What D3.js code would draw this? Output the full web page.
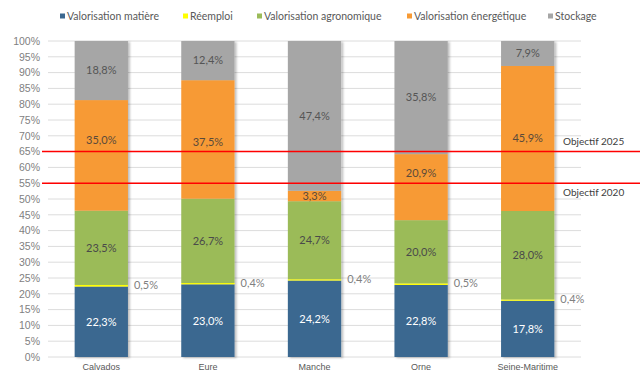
<!DOCTYPE html>
<html>
<head>
<meta charset="utf-8">
<script src="https://cdn.jsdelivr.net/npm/d3@7"></script>
<style>
  html, body { margin: 0; padding: 0; background: #fff; }
  svg { display: block; font-family: "Lato", "Noto Sans", sans-serif; }
</style>
</head>
<body>
<svg id="chart" width="640" height="376"></svg>
<script>
// Départements
const categories = ["Calvados", "Eure", "Manche", "Orne", "Seine-Maritime"];

// Series (% of waste by treatment route)
const seriesNames = ["Valorisation matière", "Réemploi", "Valorisation agronomique", "Valorisation énergétique", "Stockage"];
const valorisationMatiere = [22.3, 23.0, 24.2, 22.8, 17.8];
const reemploi = [0.5, 0.4, 0.4, 0.5, 0.4];
const valorisationAgronomique = [23.5, 26.7, 24.7, 20.0, 28.0];
const valorisationEnergetique = [35.0, 37.5, 3.3, 20.9, 45.9];
const stockage = [18.8, 12.4, 47.4, 35.8, 7.9];

const yTicks = [0, 5, 10, 15, 20, 25, 30, 35, 40, 45, 50, 55, 60, 65, 70, 75, 80, 85, 90, 95, 100];

// Target lines
const objectifs = [
  { label: "Objectif 2025", value: 65 },
  { label: "Objectif 2020", value: 55 }
];

const seriesValues = [valorisationMatiere, reemploi, valorisationAgronomique, valorisationEnergetique, stockage];
const colors = ["#3b6890", "#ffff00", "#9bbb59", "#f79a34", "#a6a6a6"];
const labelColors = ["#ffffff", "#808080", "#4a4a4a", "#5a4a3a", "#555555"];

const rows = categories.map((c, i) => {
  const r = { cat: c };
  seriesNames.forEach((s, k) => r[s] = seriesValues[k][i]);
  return r;
});

const svg = d3.select("#chart");
const W = 640;
const left = 48, right = 581;

const x = d3.scaleBand().domain(categories).range([left, right]).paddingInner(0.5).paddingOuter(0.25);
const y = d3.scaleLinear().domain([0, 100]).range([357, 41]);

// Gridlines
svg.append("g").selectAll("line").data(yTicks).join("line")
  .attr("x1", left).attr("x2", right)
  .attr("y1", d => y(d)).attr("y2", d => y(d))
  .attr("stroke", "#dcdcdc").attr("stroke-width", 1);

// Y axis labels
const yAxis = d3.axisLeft(y).tickValues(yTicks).tickFormat(d => d + "%").tickSize(0).tickPadding(8);
const gy = svg.append("g").attr("transform", `translate(${left},0)`).call(yAxis);
gy.select(".domain").remove();
gy.selectAll("text").attr("fill", "#7f7f7f").style("font-size", "10.5px");

// Soft shadow on the bars
const defs = svg.append("defs");
const f = defs.append("filter").attr("id", "shadow").attr("x", "-20%").attr("y", "-5%").attr("width", "140%").attr("height", "110%");
f.append("feDropShadow").attr("dx", 2).attr("dy", 1).attr("stdDeviation", 1.2).attr("flood-color", "#000").attr("flood-opacity", 0.25);

const stack = d3.stack().keys(seriesNames)(rows);

const barG = svg.append("g").attr("filter", "url(#shadow)");
stack.forEach((layer, k) => {
  barG.append("g").selectAll("rect").data(layer).join("rect")
    .attr("x", d => x(d.data.cat))
    .attr("width", x.bandwidth())
    .attr("y", d => y(Math.min(d[1], 100)))
    .attr("height", d => y(d[0]) - y(Math.min(d[1], 100)))
    .attr("fill", colors[k]);
});

// Labels lifted clear of the target lines (pixels, per series/category)
const labelShift = { "Valorisation énergétique": { "Calvados": -15, "Orne": -14, "Eure": 3 } };

// Value labels
const fmt = v => v.toFixed(1).replace(".", ",") + "%";
stack.forEach((layer, k) => {
  const shift = labelShift[seriesNames[k]] || {};
  svg.append("g").selectAll("text").data(layer).join("text")
    .attr("x", d => k === 1 ? x(d.data.cat) + x.bandwidth() + 6 : x(d.data.cat) + x.bandwidth() / 2)
    .attr("y", d => y((d[0] + Math.min(d[1], 100)) / 2) + (k === 1 ? -1 : 0) + (shift[d.data.cat] || 0))
    .attr("dy", "0.35em")
    .attr("text-anchor", k === 1 ? "start" : "middle")
    .attr("fill", labelColors[k])
    .style("font-size", "11px")
    .text(d => fmt(d[1] - d[0]));
});

// Target lines
objectifs.forEach((o, i) => {
  svg.append("line")
    .attr("x1", 42).attr("x2", W)
    .attr("y1", y(o.value)).attr("y2", y(o.value))
    .attr("stroke", "#ff0000").attr("stroke-width", 1.5);
  svg.append("text")
    .attr("x", 563)
    .attr("y", i === 0 ? y(o.value) - 7 : y(o.value) + 13)
    .attr("fill", "#404040")
    .style("font-size", "10px")
    .text(o.label);
});

// X axis labels
const xAxis = d3.axisBottom(x).tickSize(0).tickPadding(7);
const gx = svg.append("g").attr("transform", `translate(0,${y(0)})`).call(xAxis);
gx.select(".domain").remove();
gx.selectAll("text").attr("fill", "#595959").style("font-size", "9px");

// Legend
const legendX = [60, 183, 257, 407, 548];
const lg = svg.append("g");
seriesNames.forEach((s, k) => {
  lg.append("rect").attr("x", legendX[k]).attr("y", 13.5).attr("width", 5).attr("height", 5).attr("fill", colors[k]);
  lg.append("text").attr("x", legendX[k] + 7).attr("y", 16).attr("dy", "0.35em")
    .attr("fill", "#595959").style("font-size", "10.5px").text(s);
});
</script>
</body>
</html>
